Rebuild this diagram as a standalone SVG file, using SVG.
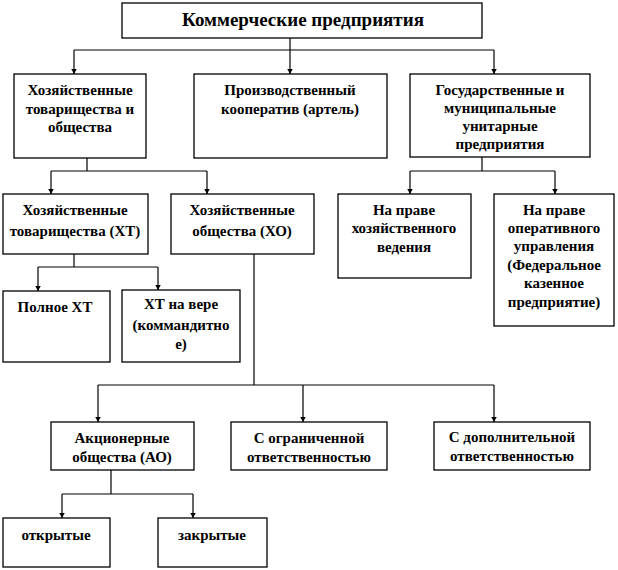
<svg xmlns="http://www.w3.org/2000/svg" width="618" height="570" viewBox="0 0 618 570">
<style>
rect.b{fill:#fff;stroke:#000;stroke-width:1.3}
text{font-family:"Liberation Serif","Times New Roman","DejaVu Serif",serif;font-weight:bold;font-size:15px;fill:#000;text-anchor:middle}
text.t{font-size:19px}
.c line{fill:none;stroke:#000;stroke-width:1.2}
</style>
<defs>
<marker id="ah" markerUnits="userSpaceOnUse" markerWidth="7" markerHeight="7" refX="5.5" refY="3" orient="auto">
<path d="M0,0 L5.5,3 L0,6 z" fill="#000"/>
</marker>
</defs>
<rect width="618" height="570" fill="#fff"/>
<g class="c" id="connectors">
<line x1="290" y1="38" x2="290" y2="50"/>
<line x1="74" y1="50" x2="494" y2="50"/>
<line x1="74" y1="50" x2="74" y2="74" marker-end="url(#ah)"/>
<line x1="290" y1="50" x2="290" y2="74" marker-end="url(#ah)"/>
<line x1="494" y1="50" x2="494" y2="74" marker-end="url(#ah)"/>
<line x1="87" y1="158" x2="87" y2="171"/>
<line x1="51" y1="171" x2="207" y2="171"/>
<line x1="51" y1="171" x2="51" y2="194" marker-end="url(#ah)"/>
<line x1="207" y1="171" x2="207" y2="194" marker-end="url(#ah)"/>
<line x1="482" y1="157" x2="482" y2="171"/>
<line x1="410" y1="171" x2="555" y2="171"/>
<line x1="410" y1="171" x2="410" y2="194" marker-end="url(#ah)"/>
<line x1="555" y1="171" x2="555" y2="194" marker-end="url(#ah)"/>
<line x1="74" y1="254" x2="74" y2="267"/>
<line x1="38" y1="267" x2="158" y2="267"/>
<line x1="38" y1="267" x2="38" y2="291" marker-end="url(#ah)"/>
<line x1="158" y1="267" x2="158" y2="290" marker-end="url(#ah)"/>
<line x1="254" y1="254" x2="254" y2="385"/>
<line x1="98" y1="385" x2="494" y2="385"/>
<line x1="98" y1="385" x2="98" y2="422" marker-end="url(#ah)"/>
<line x1="303" y1="385" x2="303" y2="422" marker-end="url(#ah)"/>
<line x1="494" y1="385" x2="494" y2="422" marker-end="url(#ah)"/>
<line x1="111" y1="470" x2="111" y2="494"/>
<line x1="62" y1="494" x2="193" y2="494"/>
<line x1="62" y1="494" x2="62" y2="518" marker-end="url(#ah)"/>
<line x1="193" y1="494" x2="193" y2="518" marker-end="url(#ah)"/>
</g>
<g id="root"><rect class="b" x="122" y="3" width="360" height="35"/><text class="t" x="303" y="26">Коммерческие предприятия</text></g>
<g id="ht_ho"><rect class="b" x="14" y="74" width="132" height="84"/><text x="80" y="95">Хозяйственные</text><text x="80" y="114">товарищества и</text><text x="80" y="132">общества</text></g>
<g id="coop"><rect class="b" x="194" y="74" width="193" height="84"/><text x="290" y="95">Производственный</text><text x="290" y="114">кооператив (артель)</text></g>
<g id="unitary"><rect class="b" x="410" y="74" width="180" height="83"/><text x="500" y="95">Государственные и</text><text x="500" y="113">муниципальные</text><text x="500" y="131">унитарные</text><text x="500" y="149">предприятия</text></g>
<g id="ht"><rect class="b" x="3" y="194" width="145" height="60"/><text x="75" y="215">Хозяйственные</text><text x="75" y="236">товарищества (ХТ)</text></g>
<g id="ho"><rect class="b" x="171" y="194" width="143" height="60"/><text x="242" y="215">Хозяйственные</text><text x="242" y="236">общества (ХО)</text></g>
<g id="hoz"><rect class="b" x="338" y="194" width="133" height="84"/><text x="404" y="215">На праве</text><text x="404" y="233">хозяйственного</text><text x="404" y="252">ведения</text></g>
<g id="oper"><rect class="b" x="494" y="194" width="120" height="132"/><text x="554" y="215">На праве</text><text x="554" y="233">оперативного</text><text x="554" y="251">управления</text><text x="554" y="270">(Федеральное</text><text x="554" y="288">казенное</text><text x="554" y="307">предприятие)</text></g>
<g id="full"><rect class="b" x="3" y="291" width="107" height="71"/><text x="55" y="312">Полное ХТ</text></g>
<g id="komm"><rect class="b" x="122" y="290" width="118" height="72"/><text x="181" y="309">ХТ на вере</text><text x="181" y="330">(коммандитно</text><text x="181" y="349">е)</text></g>
<g id="ao"><rect class="b" x="51" y="422" width="143" height="48"/><text x="122" y="443">Акционерные</text><text x="122" y="462">общества (АО)</text></g>
<g id="ooo"><rect class="b" x="231" y="422" width="156" height="48"/><text x="309" y="443">С ограниченной</text><text x="309" y="462">ответственностью</text></g>
<g id="odo"><rect class="b" x="434" y="422" width="156" height="48"/><text x="512" y="442">С дополнительной</text><text x="512" y="461">ответственностью</text></g>
<g id="open"><rect class="b" x="3" y="518" width="107" height="49"/><text x="56" y="540">открытые</text></g>
<g id="closed"><rect class="b" x="158" y="518" width="109" height="49"/><text x="212" y="540">закрытые</text></g>
</svg>
